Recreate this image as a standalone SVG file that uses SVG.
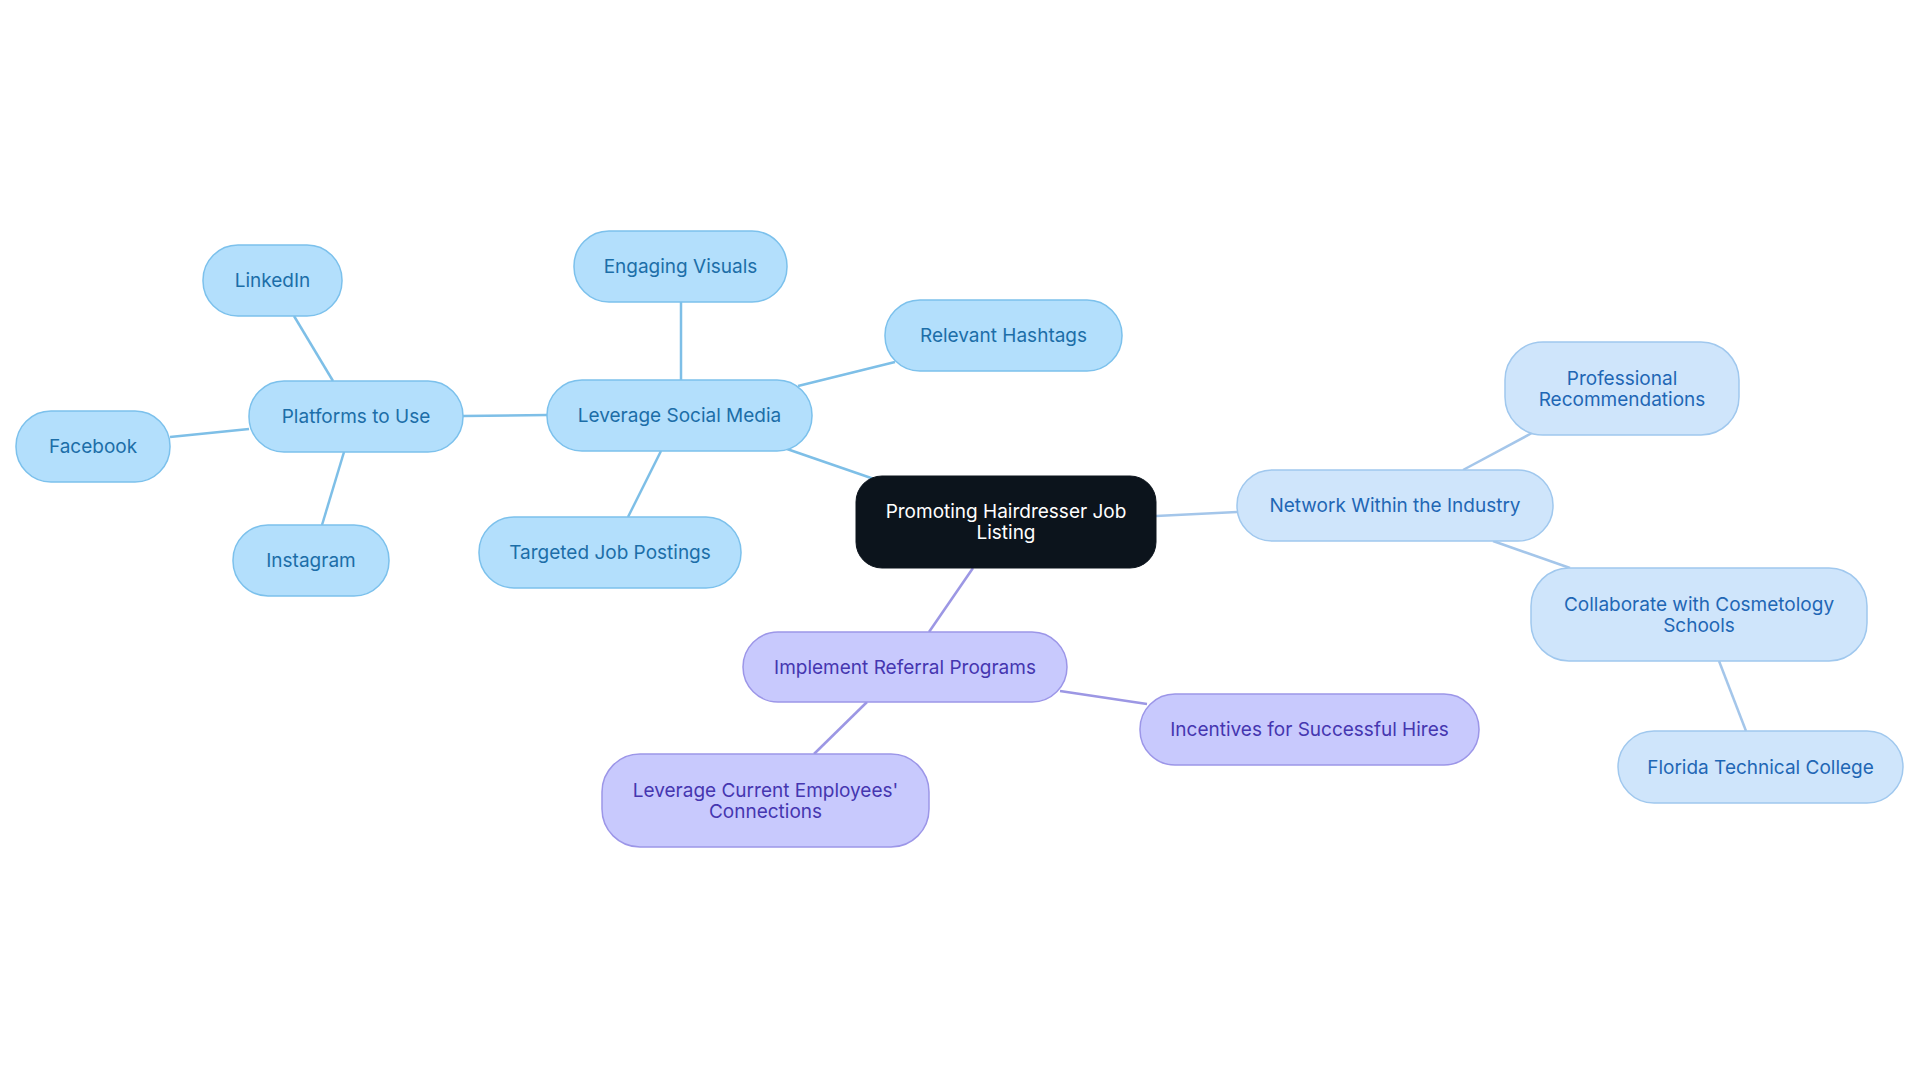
<svg xmlns="http://www.w3.org/2000/svg" width="1920" height="1083" viewBox="0 0 1920 1083">
<style>
text{font-family:Inter,"Noto Sans",sans-serif;font-size:19px;text-anchor:middle;dominant-baseline:central}
.b rect{fill:#b3dffc;stroke:#7cc1ec;stroke-width:1.5}.b text{fill:#1c6ea8}
.n rect{fill:#cfe5fb;stroke:#a0c8ee;stroke-width:1.5}.n text{fill:#1f67b5}
.p rect{fill:#c8c9fd;stroke:#9c96e8;stroke-width:1.5}.p text{fill:#4536b0}
#edges line{stroke-width:2.5}
.eb{stroke:#7ebfe7}.en{stroke:#a4c6ea}.ep{stroke:#9c97e4}
</style>
<rect width="1920" height="1083" fill="#fff"/>
<g id="edges">
<line class="eb" x1="874" y1="479" x2="787" y2="449"/>
<line class="eb" x1="681" y1="380" x2="681" y2="302"/>
<line class="eb" x1="798" y1="386" x2="895" y2="362"/>
<line class="eb" x1="661" y1="451" x2="628" y2="517"/>
<line class="eb" x1="547" y1="415" x2="463" y2="416"/>
<line class="eb" x1="333" y1="381" x2="294" y2="316"/>
<line class="eb" x1="249" y1="429" x2="170" y2="437"/>
<line class="eb" x1="344" y1="452" x2="322" y2="525"/>
<line class="en" x1="1156" y1="516" x2="1237" y2="512"/>
<line class="en" x1="1463" y1="470" x2="1532" y2="433"/>
<line class="en" x1="1493" y1="541" x2="1570" y2="568"/>
<line class="en" x1="1719" y1="661" x2="1746" y2="731"/>
<line class="ep" x1="973" y1="568" x2="929" y2="632"/>
<line class="ep" x1="1060" y1="691" x2="1147" y2="704"/>
<line class="ep" x1="867" y1="702" x2="814" y2="754"/>
</g>
<g id="center"><rect x="856" y="476" width="300" height="92" rx="26" fill="#0c141c" stroke="#0c141c"/><text x="1006" y="511" fill="#fff">Promoting Hairdresser Job</text><text x="1006" y="532" fill="#fff">Listing</text></g>
<g id="lsm" class="b"><rect x="547" y="380" width="265" height="71" rx="35"/><text x="679.5" y="415.5">Leverage Social Media</text></g>
<g id="ev" class="b"><rect x="574" y="231" width="213" height="71" rx="35"/><text x="680.5" y="266.5">Engaging Visuals</text></g>
<g id="rh" class="b"><rect x="885" y="300" width="237" height="71" rx="35"/><text x="1003.5" y="335.5">Relevant Hashtags</text></g>
<g id="tjp" class="b"><rect x="479" y="517" width="262" height="71" rx="35"/><text x="610" y="552.5">Targeted Job Postings</text></g>
<g id="pu" class="b"><rect x="249" y="381" width="214" height="71" rx="35"/><text x="356" y="416.5">Platforms to Use</text></g>
<g id="li" class="b"><rect x="203" y="245" width="139" height="71" rx="35"/><text x="272.5" y="280.5">LinkedIn</text></g>
<g id="fb" class="b"><rect x="16" y="411" width="154" height="71" rx="35"/><text x="93" y="446.5">Facebook</text></g>
<g id="ig" class="b"><rect x="233" y="525" width="156" height="71" rx="35"/><text x="311" y="560.5">Instagram</text></g>
<g id="net" class="n"><rect x="1237" y="470" width="316" height="71" rx="35"/><text x="1395" y="505.5">Network Within the Industry</text></g>
<g id="prof" class="n"><rect x="1505" y="342" width="234" height="93" rx="38"/><text x="1622" y="378">Professional</text><text x="1622" y="399">Recommendations</text></g>
<g id="col" class="n"><rect x="1531" y="568" width="336" height="93" rx="38"/><text x="1699" y="604">Collaborate with Cosmetology</text><text x="1699" y="625">Schools</text></g>
<g id="ftc" class="n"><rect x="1618" y="731" width="285" height="72" rx="36"/><text x="1760.5" y="767">Florida Technical College</text></g>
<g id="irp" class="p"><rect x="743" y="632" width="324" height="70" rx="35"/><text x="905" y="667">Implement Referral Programs</text></g>
<g id="inc" class="p"><rect x="1140" y="694" width="339" height="71" rx="35"/><text x="1309.5" y="729.5">Incentives for Successful Hires</text></g>
<g id="lce" class="p"><rect x="602" y="754" width="327" height="93" rx="38"/><text x="765.5" y="790">Leverage Current Employees'</text><text x="765.5" y="811">Connections</text></g>
</svg>
